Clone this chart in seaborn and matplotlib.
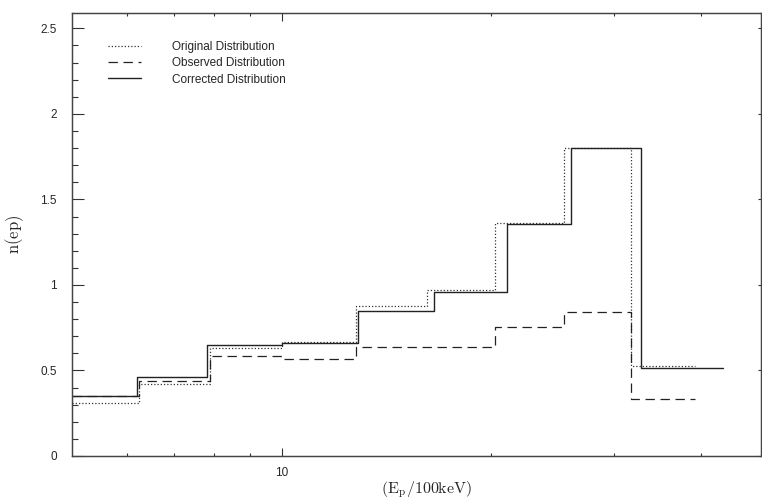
import numpy as np
import pandas as pd
import matplotlib
matplotlib.use("Agg")
import matplotlib.pyplot as plt
from matplotlib.ticker import MultipleLocator, FixedLocator, NullFormatter, FuncFormatter
import seaborn as sns

# ---- data (bin edges in units of 100 keV, heights n(ep)) ----
orig_edges = [5.0, 6.24, 7.89, 10.0, 12.78, 16.16, 20.28, 25.41, 31.78, 39.26]
orig_vals = [0.312, 0.419, 0.630, 0.665, 0.877, 0.971, 1.361, 1.803, 0.528]

obs_edges = [5.0, 6.24, 7.89, 10.0, 12.78, 16.16, 20.28, 25.41, 31.78, 39.26]
obs_vals = [0.351, 0.440, 0.587, 0.565, 0.639, 0.637, 0.756, 0.842, 0.333]

corr_edges = [5.0, 6.19, 7.82, 10.0, 12.87, 16.55, 21.08, 26.04, 32.81, 42.97]
corr_vals = [0.351, 0.464, 0.649, 0.663, 0.850, 0.959, 1.357, 1.799, 0.515]

labels = ["Original Distribution", "Observed Distribution", "Corrected Distribution"]
x_major = [10]
x_minor = [6, 7, 8, 9, 20, 30, 40]
y_major = [0, 0.5, 1, 1.5, 2, 2.5]

sns.set_style("ticks")
plt.rcParams["font.family"] = ["Liberation Sans", "DejaVu Sans"]
plt.rcParams["mathtext.fontset"] = "cm"

fig = plt.figure(figsize=(7.62, 5.01), dpi=100)
L, R, B, T = 72 / 762, 761 / 762, 1 - 456 / 501, 1 - 13 / 501
ax = fig.add_axes([L, B, R - L, T - B])


def step_frame(edges, vals):
    return pd.DataFrame({"x": edges, "y": list(vals) + [vals[-1]]})


styles = [
    dict(color="#333333", lw=0.9, dashes=(1, 1.6)),
    dict(color="#222222", lw=0.9, dashes=(7.5, 4.5)),
    dict(color="#222222", lw=1.0, linestyle="-"),
]
for (edges, vals), lab, st in zip(
    [(orig_edges, orig_vals), (obs_edges, obs_vals), (corr_edges, corr_vals)], labels, styles
):
    df = step_frame(edges, vals)
    sns.lineplot(data=df, x="x", y="y", ax=ax, drawstyle="steps-post",
                 label=lab, estimator=None, sort=False, **st)

ax.set_xscale("log")
ax.set_xlim(5, 48.8)
ax.set_ylim(0, 2.59)

ax.xaxis.set_major_locator(FixedLocator(x_major))
ax.xaxis.set_minor_locator(FixedLocator(x_minor))
ax.xaxis.set_major_formatter(FuncFormatter(lambda v, p: "%g" % v))
ax.xaxis.set_minor_formatter(NullFormatter())
ax.yaxis.set_major_locator(FixedLocator(y_major))
ax.yaxis.set_minor_locator(MultipleLocator(0.1))
ax.yaxis.set_major_formatter(FuncFormatter(lambda v, p: "%g" % v))

ax.tick_params(axis="x", which="both", direction="in", top=True, bottom=True,
               labelsize=8.5, pad=8, width=0.8, color="#333333")
ax.tick_params(axis="x", which="major", length=5.5)
ax.tick_params(axis="x", which="minor", length=2.5)
ax.tick_params(axis="y", which="both", direction="in", left=True, right=False,
               labelsize=8.5, pad=11, width=0.8, color="#333333")
ax.tick_params(axis="y", which="major", length=8.5)
ax.tick_params(axis="y", which="minor", length=4.3)

ax2 = ax.twinx()
ax2.set_ylim(ax.get_ylim())
ax2.yaxis.set_major_locator(FixedLocator(y_major))
ax2.tick_params(axis="y", which="major", direction="in", length=2.5, labelright=False,
                width=0.8, color="#333333")
ax2.tick_params(axis="y", which="minor", right=False)
for a in (ax, ax2):
    for s in a.spines.values():
        s.set_visible(True)
        s.set_linewidth(0.9)
        s.set_color("#444444")

ax.set_xlabel(r"$(\mathrm{E_p/100keV})$", fontsize=11.5)
ax.set_ylabel(r"$\mathrm{n(ep)}$", fontsize=12)
ax.xaxis.set_label_coords(0.515, -0.052)
ax.yaxis.set_label_coords(-0.067, 0.5)

leg = ax.legend(loc="upper left", bbox_to_anchor=(0.052, 0.936), frameon=False,
                fontsize=8.5, handlelength=2.8, handletextpad=2.6,
                labelspacing=0.35, borderpad=0, borderaxespad=0)

fig.savefig("out.png", dpi=100)
